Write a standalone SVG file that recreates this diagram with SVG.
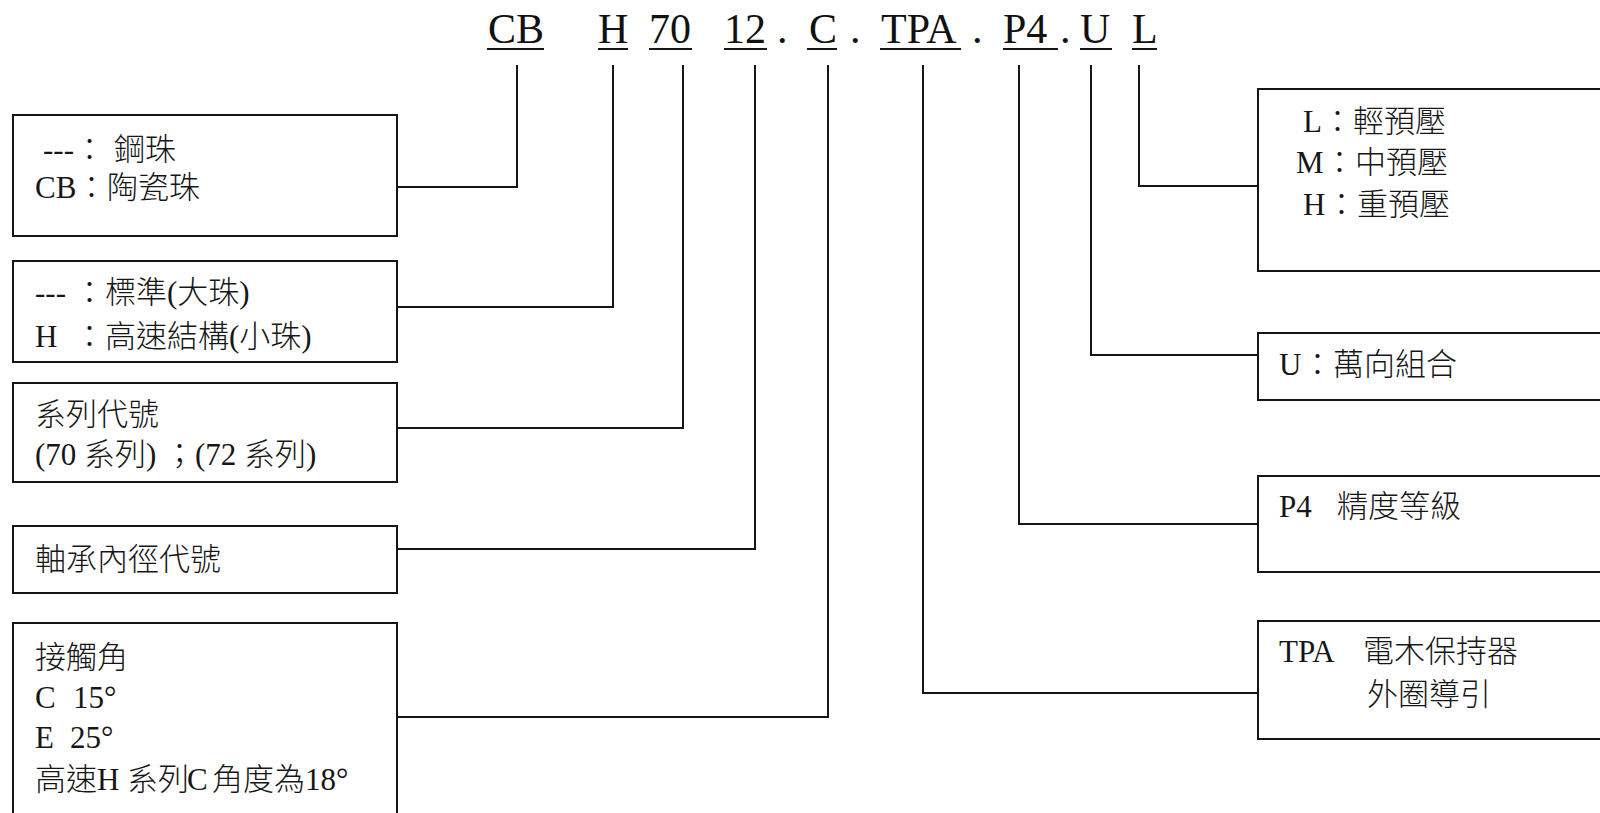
<svg xmlns="http://www.w3.org/2000/svg" width="1600" height="813" viewBox="0 0 1600 813">
<style>
.bg{fill:#fff}
.box{fill:none;stroke:#161616;stroke-width:2}
.ln{fill:none;stroke:#161616;stroke-width:2}
.ul{stroke:#161616;stroke-width:2}
.t{font-family:"Liberation Serif","Noto Sans CJK TC",serif;font-size:31px;font-weight:300;fill:#161616}
.h{font-family:"Liberation Serif","Noto Sans CJK TC",serif;font-size:42px;fill:#111}
</style>
<rect class="bg" x="0" y="0" width="1600" height="813"/>
<g id="title">
<text class="h" y="43"><tspan x="488">CB</tspan><tspan x="598">H</tspan><tspan x="649">70</tspan><tspan x="724">12</tspan><tspan x="777">.</tspan><tspan x="809">C</tspan><tspan x="850">.</tspan><tspan x="881">TPA</tspan><tspan x="972">.</tspan><tspan x="1003">P4</tspan><tspan x="1060">.</tspan><tspan x="1080">U</tspan><tspan x="1132">L</tspan></text>
<line class="ul" x1="487" y1="49" x2="544" y2="49"/>
<line class="ul" x1="598" y1="49" x2="628" y2="49"/>
<line class="ul" x1="649" y1="49" x2="692" y2="49"/>
<line class="ul" x1="724" y1="49" x2="767" y2="49"/>
<line class="ul" x1="807" y1="49" x2="837" y2="49"/>
<line class="ul" x1="880" y1="49" x2="961" y2="49"/>
<line class="ul" x1="1003" y1="49" x2="1058" y2="49"/>
<line class="ul" x1="1080" y1="49" x2="1112" y2="49"/>
<line class="ul" x1="1132" y1="49" x2="1157" y2="49"/>
</g>
<g id="connectors">
<polyline class="ln" points="517,65 517,187 397,187"/>
<polyline class="ln" points="613,65 613,307 397,307"/>
<polyline class="ln" points="683,65 683,428 397,428"/>
<polyline class="ln" points="755,65 755,549 397,549"/>
<polyline class="ln" points="828,65 828,717 397,717"/>
<polyline class="ln" points="923,65 923,693 1258,693"/>
<polyline class="ln" points="1019,65 1019,524 1258,524"/>
<polyline class="ln" points="1091,65 1091,355 1258,355"/>
<polyline class="ln" points="1139,65 1139,186 1258,186"/>
</g>
<g id="node-ball">
<rect class="box" x="13" y="115" width="384" height="121"/>
<text class="t" y="160"><tspan x="43">---</tspan><tspan x="74">：</tspan><tspan x="114">鋼珠</tspan></text>
<text class="t" y="198"><tspan x="35">CB</tspan><tspan x="76">：陶瓷珠</tspan></text>
</g>
<g id="node-structure">
<rect class="box" x="13" y="261" width="384" height="101"/>
<text class="t" y="303"><tspan x="35">---</tspan><tspan x="74">：標準(大珠)</tspan></text>
<text class="t" y="347"><tspan x="35">H</tspan><tspan x="74">：高速結構(小珠)</tspan></text>
</g>
<g id="node-series">
<rect class="box" x="13" y="383" width="384" height="99"/>
<text class="t" x="35" y="425">系列代號</text>
<text class="t" y="465"><tspan x="35">(70 系列)</tspan><tspan x="164">；</tspan><tspan x="195">(72 系列)</tspan></text>
</g>
<g id="node-bore">
<rect class="box" x="13" y="526" width="384" height="67"/>
<text class="t" x="35" y="570">軸承內徑代號</text>
</g>
<g id="node-angle">
<rect class="box" x="13" y="623" width="384" height="210"/>
<text class="t" x="35" y="668">接觸角</text>
<text class="t" y="708"><tspan x="35">C</tspan><tspan x="73">15°</tspan></text>
<text class="t" y="748"><tspan x="35">E</tspan><tspan x="70">25°</tspan></text>
<text class="t" y="790"><tspan x="35">高速</tspan><tspan x="97">H</tspan><tspan x="127">系列</tspan><tspan x="187">C</tspan><tspan x="212">角度為</tspan><tspan x="305">18°</tspan></text>
</g>
<g id="node-preload">
<rect class="box" x="1258" y="89" width="360" height="182"/>
<text class="t" y="132"><tspan x="1303">L</tspan><tspan x="1322">：輕預壓</tspan></text>
<text class="t" y="173"><tspan x="1296">M</tspan><tspan x="1324">：中預壓</tspan></text>
<text class="t" y="215"><tspan x="1303">H</tspan><tspan x="1326">：重預壓</tspan></text>
</g>
<g id="node-universal">
<rect class="box" x="1258" y="333" width="360" height="67"/>
<text class="t" y="375"><tspan x="1279">U</tspan><tspan x="1302">：萬向組合</tspan></text>
</g>
<g id="node-precision">
<rect class="box" x="1258" y="476" width="360" height="96"/>
<text class="t" y="517"><tspan x="1279">P4</tspan><tspan x="1337">精度等級</tspan></text>
</g>
<g id="node-cage">
<rect class="box" x="1258" y="621" width="360" height="118"/>
<text class="t" y="662"><tspan x="1279">TPA</tspan><tspan x="1363">電木保持器</tspan></text>
<text class="t" x="1367" y="705">外圈導引</text>
</g>
</svg>
